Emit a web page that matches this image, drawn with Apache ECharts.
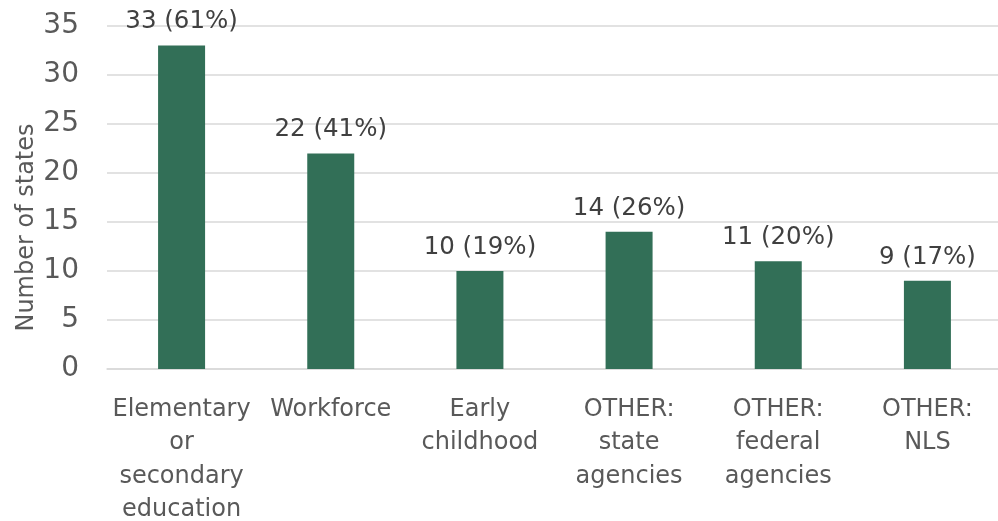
<!DOCTYPE html>
<html>
<head>
<meta charset="utf-8">
<script src="https://cdn.jsdelivr.net/npm/echarts@6/dist/echarts.min.js"></script>
<style>
html,body{margin:0;padding:0;background:#fff;}
#chart{width:998px;height:521px;}
</style>
</head>
<body>
<div id="chart"></div>
<script>
const categories = [
  "Elementary\nor\nsecondary\neducation",
  "Workforce",
  "Early\nchildhood",
  "OTHER:\nstate\nagencies",
  "OTHER:\nfederal\nagencies",
  "OTHER:\nNLS"
];
const counts = [33, 22, 10, 14, 11, 9];
const percents = [61, 41, 19, 26, 20, 17];
const yTicks = { min: 0, max: 35, interval: 5 };

const FONT = "DejaVu Sans";
const chart = echarts.init(document.getElementById('chart'));
chart.setOption({
  animation: false,
  backgroundColor: '#ffffff',
  grid: { left: 107, top: 26, bottom: 152, width: 895, containLabel: false, outerBoundsMode: 'none' },
  xAxis: {
    type: 'category',
    data: categories,
    axisLine: { show: true, lineStyle: { color: '#d9d9d9', width: 1.5 } },
    axisTick: { show: false },
    axisLabel: {
      interval: 0,
      margin: 24,
      color: '#595959',
      fontFamily: FONT,
      fontSize: 24,
      lineHeight: 33.5
    }
  },
  yAxis: {
    type: 'value',
    min: yTicks.min,
    max: yTicks.max,
    interval: yTicks.interval,
    name: 'Number of states',
    nameLocation: 'middle',
    nameRotate: 90,
    nameGap: 68,
    nameMoveOverlap: false,
    nameTextStyle: { color: '#595959', fontFamily: FONT, fontSize: 24, padding: [0, 60, 0, 0] },
    axisLine: { show: false },
    axisTick: { show: false },
    axisLabel: { color: '#595959', fontFamily: FONT, fontSize: 28, margin: 28 },
    splitLine: { lineStyle: { color: '#d9d9d9', width: 1.5 } }
  },
  series: [{
    type: 'bar',
    data: counts,
    barWidth: 47,
    itemStyle: { color: '#326F57' },
    label: {
      show: true,
      position: 'top',
      distance: 11,
      color: '#404040',
      fontFamily: FONT,
      fontSize: 24.5,
      formatter: p => counts[p.dataIndex] + ' (' + percents[p.dataIndex] + '%)'
    }
  }]
});
</script>
</body>
</html>
